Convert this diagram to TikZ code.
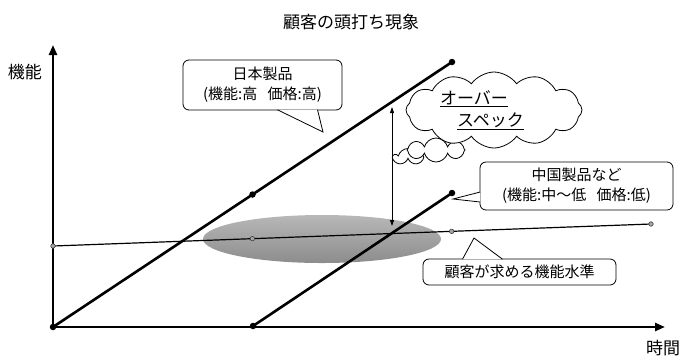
\documentclass[tikz,border=0pt]{standalone}
\usepackage{fontspec}
\setmainfont{Noto Sans CJK JP}
\usetikzlibrary{arrows.meta,positioning,calc,shapes.geometric,shapes.symbols}

\begin{document}
\begin{tikzpicture}[
  x=1pt, y=-1pt,
  ax/.style={line width=2.4pt, -{Triangle[length=10pt,width=8pt]}},
  ln/.style={line width=2.6pt, line cap=round},
  dt/.style={circle, fill=black, inner sep=0pt, minimum size=6.5pt},
  gd/.style={circle, draw=black!75, fill=black!35, inner sep=0pt, minimum size=4.5pt, line width=0.6pt},
  cb/.style={draw, rounded corners=6pt, fill=white, line width=0.8pt, align=center, inner sep=0pt, font=\fontsize{15}{20}\selectfont},
  pt/.style={draw, fill=white, line width=0.8pt, line join=miter},
  cl/.style={cloud, draw, fill=white, line width=0.8pt, inner sep=0pt},
  lb/.style={font=\fontsize{17}{20}\selectfont}
]
\useasboundingbox (0,0) rectangle (693,360);
\node[lb] (title) at (351,22) {顧客の頭打ち現象};
\node[lb] (ylab) at (25,72) {機能};
\node[lb] (xlab) at (663,348) {時間};
\node[ellipse, minimum width=238pt, minimum height=48pt, inner sep=0pt, top color=black!28, bottom color=black!45] (zone) at (322,239) {};
\coordinate (O) at (53,327);
\coordinate (ytip) at (53,45);
\coordinate (xtip) at (665,327);
\coordinate (jpEnd) at (452,62);
\coordinate (cnStart) at (253,326);
\coordinate (cnEnd) at (452,193);
\coordinate (cuStart) at (53,246);
\coordinate (cuEnd) at (651,224);
\draw[line width=1.2pt] (cuStart) -- (cuEnd);
\draw[ax] (O) -- (ytip);
\draw[ax] (O) -- (xtip);
\draw[ln] (cnStart) -- (cnEnd);
\node[dt] (cn0) at (cnStart) {};
\node[dt] (cn1) at (cnEnd) {};
\node[gd] (cu0) at (cuStart) {};
\node[gd] (cu1) at ($(cuStart)!1/3!(cuEnd)$) {};
\node[gd] (cu2) at ($(cuStart)!2/3!(cuEnd)$) {};
\node[gd] (cu3) at (cuEnd) {};
\coordinate (ovTop) at (392,107);
\coordinate (ovBot) at (392,226);
\draw[line width=0.8pt, {Triangle[length=6pt,width=4pt]}-{Triangle[length=6pt,width=4pt]}] (ovBot) -- (ovTop);
\node[cb, minimum width=159pt, minimum height=50pt] (jp) at (262.5,85) {日本製品\\(機能:高\hspace{0.7em}価格:高)};
\coordinate (jpTip) at (323,132);
\draw[pt] ([xshift=15pt,yshift=0.6pt]jp.south) -- (jpTip) -- ([xshift=55pt,yshift=0.6pt]jp.south);
\node[cb, minimum width=193pt, minimum height=48pt] (cn) at (576.5,186) {中国製品など\\(機能:中〜低\hspace{0.7em}価格:低)};
\coordinate (cnTip) at (453,199);
\draw[pt] ([xshift=0.6pt,yshift=-6pt]cn.west) -- (cnTip) -- ([xshift=0.6pt,yshift=-16pt]cn.west);
\node[cb, minimum width=193pt, minimum height=26pt] (cu) at (519.5,272) {顧客が求める機能水準};
\coordinate (cuTip) at (474,238);
\draw[pt] ([xshift=-57pt,yshift=-0.6pt]cu.north) -- (cuTip) -- ([xshift=-17pt,yshift=-0.6pt]cu.north);
\node[cl, cloud puffs=5, aspect=1.6, minimum width=28pt, minimum height=17pt] (puffS) at (408,157) {};
\node[cl, cloud puffs=8, aspect=2.5, minimum width=58pt, minimum height=24pt] (puffM) at (436,150) {};
\node[cl, cloud puffs=12, cloud puff arc=110, aspect=2.2, minimum width=176pt, minimum height=76pt] (over) at (494,110) {};
\node[align=left, font=\fontsize{17}{22}\selectfont] (overTxt) at (482,110) {\underline{オーバー}\\\hspace*{1em}\underline{スペック}};
\draw[ln] (O) -- (jpEnd);
\node[dt] (jp0) at (O) {};
\node[dt] (jp1) at ($(O)!0.5!(jpEnd)$) {};
\node[dt] (jp2) at (jpEnd) {};
\end{tikzpicture}
\end{document}
